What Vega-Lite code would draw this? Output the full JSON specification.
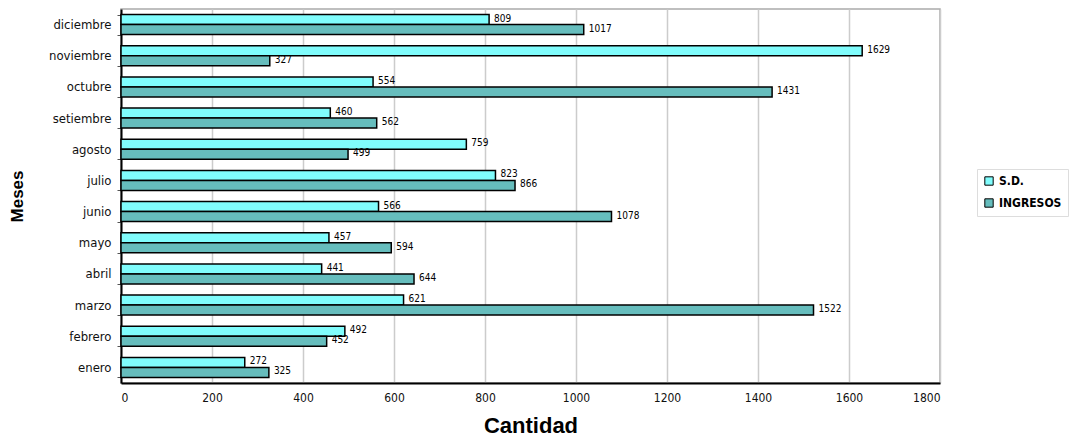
{
  "$schema": "https://vega.github.io/schema/vega-lite/v6.json",
  "autosize": {"type": "none"},
  "padding": {"left": 121, "top": 9, "right": 130, "bottom": 55},
  "width": 819,
  "height": 374,
  "background": "white",
  "config": {
    "font": "Liberation Sans Narrow, DejaVu Sans Condensed, sans-serif",
    "view": {"stroke": "#aaaaaa", "strokeWidth": 1.5}
  },
  "data": {
    "values": [
      {"mes": "diciembre", "serie": "S.D.", "valor": 809},
      {"mes": "diciembre", "serie": "INGRESOS", "valor": 1017},
      {"mes": "noviembre", "serie": "S.D.", "valor": 1629},
      {"mes": "noviembre", "serie": "INGRESOS", "valor": 327},
      {"mes": "octubre", "serie": "S.D.", "valor": 554},
      {"mes": "octubre", "serie": "INGRESOS", "valor": 1431},
      {"mes": "setiembre", "serie": "S.D.", "valor": 460},
      {"mes": "setiembre", "serie": "INGRESOS", "valor": 562},
      {"mes": "agosto", "serie": "S.D.", "valor": 759},
      {"mes": "agosto", "serie": "INGRESOS", "valor": 499},
      {"mes": "julio", "serie": "S.D.", "valor": 823},
      {"mes": "julio", "serie": "INGRESOS", "valor": 866},
      {"mes": "junio", "serie": "S.D.", "valor": 566},
      {"mes": "junio", "serie": "INGRESOS", "valor": 1078},
      {"mes": "mayo", "serie": "S.D.", "valor": 457},
      {"mes": "mayo", "serie": "INGRESOS", "valor": 594},
      {"mes": "abril", "serie": "S.D.", "valor": 441},
      {"mes": "abril", "serie": "INGRESOS", "valor": 644},
      {"mes": "marzo", "serie": "S.D.", "valor": 621},
      {"mes": "marzo", "serie": "INGRESOS", "valor": 1522},
      {"mes": "febrero", "serie": "S.D.", "valor": 492},
      {"mes": "febrero", "serie": "INGRESOS", "valor": 452},
      {"mes": "enero", "serie": "S.D.", "valor": 272},
      {"mes": "enero", "serie": "INGRESOS", "valor": 325}
    ]
  },
  "encoding": {
    "y": {
      "field": "mes",
      "type": "nominal",
      "sort": ["diciembre", "noviembre", "octubre", "setiembre", "agosto", "julio", "junio", "mayo", "abril", "marzo", "febrero", "enero"],
      "scale": {"paddingInner": 0.36, "paddingOuter": 0.18},
      "axis": {
        "title": "Meses",
        "titleFontSize": 17,
        "titleFontWeight": "bold",
        "titleFont": "Liberation Sans, Arial, sans-serif",
        "titlePadding": 22,
        "labelFontSize": 13,
        "labelColor": "#111",
        "labelPadding": 6,
        "domainColor": "#000",
        "domainWidth": 2,
        "tickBand": "extent",
        "tickColor": "#555",
        "tickSize": 4
      }
    },
    "yOffset": {"field": "serie", "type": "nominal", "sort": ["S.D.", "INGRESOS"]},
    "x": {
      "field": "valor",
      "type": "quantitative",
      "scale": {"domain": [0, 1800], "nice": false},
      "axis": {
        "title": "Cantidad",
        "titleFontSize": 22,
        "titleFontWeight": "bold",
        "titleFont": "Liberation Sans, Arial, sans-serif",
        "titlePadding": 12,
        "format": "d",
        "values": [0, 200, 400, 600, 800, 1000, 1200, 1400, 1600, 1800],
        "labelFontSize": 12,
        "labelColor": "#111",
        "labelPadding": 9,
        "domainColor": "#000",
        "domainWidth": 2,
        "ticks": false,
        "gridColor": "#cccccc",
        "gridWidth": 1.5
      }
    }
  },
  "layer": [
    {
      "mark": {"type": "bar", "stroke": "#000", "strokeWidth": 1.5},
      "encoding": {
        "color": {
          "field": "serie",
          "type": "nominal",
          "sort": ["S.D.", "INGRESOS"],
          "scale": {"domain": ["S.D.", "INGRESOS"], "range": ["#80fcfc", "#66bdbd"]},
          "legend": {
            "title": null,
            "orient": "none",
            "legendX": 856,
            "legendY": 160,
            "symbolType": "square",
            "symbolSize": 70,
            "symbolStrokeColor": "#000",
            "symbolStrokeWidth": 1,
            "labelFontSize": 12,
            "labelFontWeight": "bold",
            "rowPadding": 8,
            "padding": 6,
            "strokeColor": "#dddddd"
          }
        }
      }
    },
    {
      "mark": {"type": "text", "align": "left", "baseline": "bottom", "dx": 5, "dy": 4, "fontSize": 10, "color": "#000"},
      "encoding": {"text": {"field": "valor", "type": "quantitative"}}
    }
  ]
}
